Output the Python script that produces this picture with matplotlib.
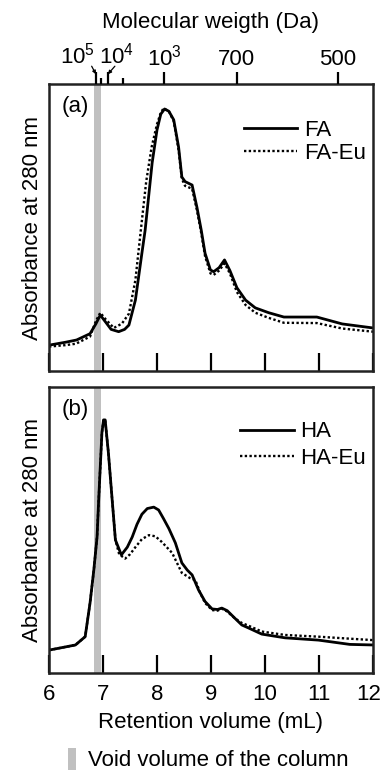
import matplotlib
matplotlib.use("Agg")
import matplotlib.pyplot as plt
from matplotlib.patches import Rectangle
from matplotlib.transforms import ScaledTranslation

plt.rcParams['font.family'] = ['Liberation Sans', 'DejaVu Sans']
plt.rcParams['mathtext.fontset'] = 'custom'
plt.rcParams['mathtext.rm'] = 'Liberation Sans'

# --- données (fraction de hauteur du panneau) ---
fa_x = [6.0, 6.3, 6.51, 6.76, 6.87, 6.95, 7.05, 7.15, 7.29, 7.40, 7.48, 7.60, 7.72, 7.78,
        7.91, 8.0, 8.07, 8.14, 8.22, 8.31, 8.40, 8.46, 8.52, 8.65, 8.74, 8.82, 8.89, 8.99,
        9.05, 9.15, 9.25, 9.35, 9.48, 9.64, 9.82, 10.07, 10.35, 10.96, 11.43, 12.0]
fa_y = [0.09, 0.10, 0.108, 0.13, 0.165, 0.195, 0.17, 0.145, 0.137, 0.145, 0.16, 0.247, 0.41, 0.49,
        0.725, 0.84, 0.895, 0.913, 0.905, 0.875, 0.78, 0.676, 0.66, 0.648, 0.57, 0.49, 0.41, 0.352,
        0.346, 0.36, 0.387, 0.35, 0.29, 0.247, 0.22, 0.203, 0.188, 0.188, 0.164, 0.15]

faeu_x = [6.0, 6.3, 6.5, 6.76, 6.87, 6.95, 7.05, 7.2, 7.35, 7.48, 7.60, 7.70, 7.80, 7.90,
          8.0, 8.07, 8.12, 8.22, 8.31, 8.40, 8.46, 8.52, 8.65, 8.74, 8.82, 8.89, 8.99, 9.05,
          9.15, 9.25, 9.35, 9.48, 9.64, 9.82, 10.07, 10.35, 10.96, 11.43, 12.0]
faeu_y = [0.085, 0.09, 0.095, 0.12, 0.175, 0.203, 0.18, 0.15, 0.165, 0.2, 0.317, 0.49, 0.66, 0.78,
          0.86, 0.9, 0.915, 0.905, 0.87, 0.77, 0.67, 0.645, 0.635, 0.56, 0.48, 0.40, 0.34, 0.335,
          0.35, 0.375, 0.34, 0.275, 0.23, 0.203, 0.185, 0.168, 0.167, 0.148, 0.137]

ha_x = [6.0, 6.49, 6.67, 6.76, 6.83, 6.89, 6.92, 6.98, 7.01, 7.04, 7.10, 7.17, 7.23, 7.34,
        7.45, 7.54, 7.63, 7.72, 7.82, 7.94, 8.03, 8.12, 8.22, 8.34, 8.46, 8.56, 8.65, 8.77,
        8.89, 9.02, 9.12, 9.20, 9.30, 9.45, 9.57, 9.70, 9.94, 10.37, 10.99, 11.57, 12.0]
ha_y = [0.08, 0.098, 0.127, 0.245, 0.36, 0.476, 0.605, 0.84, 0.885, 0.885, 0.77, 0.605, 0.465, 0.413,
        0.44, 0.475, 0.52, 0.555, 0.575, 0.58, 0.57, 0.54, 0.505, 0.455, 0.385, 0.36, 0.343, 0.29,
        0.25, 0.224, 0.222, 0.227, 0.218, 0.19, 0.168, 0.157, 0.136, 0.123, 0.115, 0.10, 0.098]

haeu_x = [6.0, 6.49, 6.67, 6.76, 6.83, 6.89, 6.92, 6.98, 7.01, 7.04, 7.10, 7.17, 7.23, 7.30,
          7.41, 7.50, 7.60, 7.72, 7.85, 7.97, 8.09, 8.28, 8.46, 8.61, 8.71, 8.80, 8.89, 9.02,
          9.12, 9.20, 9.30, 9.45, 9.57, 9.70, 9.94, 10.37, 10.99, 11.57, 12.0]
haeu_y = [0.08, 0.098, 0.127, 0.245, 0.36, 0.476, 0.605, 0.84, 0.885, 0.885, 0.77, 0.605, 0.465, 0.415,
          0.40, 0.415, 0.44, 0.468, 0.482, 0.478, 0.458, 0.42, 0.35, 0.332, 0.325, 0.28, 0.245, 0.22,
          0.218, 0.225, 0.215, 0.19, 0.175, 0.165, 0.145, 0.133, 0.127, 0.12, 0.115]

void_range = (6.83, 6.96)
ret_ticks = [6, 7, 8, 9, 10, 11, 12]
mw_pos = [6.87, 7.09, 8.13, 9.48, 11.35]
mw_labels = [r'$\mathregular{10^5}$', r'$\mathregular{10^4}$', r'$\mathregular{10^3}$', '700', '500']
mw_minor = [6.96, 7.37]

W, H = 382, 770
fig = plt.figure(figsize=(W / 100, H / 100), dpi=100)
FS = 16

def make_ax(top, bottom):
    ax = fig.add_axes([49 / W, (H - bottom) / H, 324 / W, (bottom - top) / H])
    ax.set_xlim(6, 12)
    ax.set_ylim(0, 1)
    ax.axvspan(*void_range, color='#c0c0c0', lw=0, zorder=0)
    ax.set_yticks([])
    ax.set_xticks(ret_ticks)
    ax.tick_params(axis='x', direction='in', length=13, width=1.6, labelsize=FS, pad=8)
    for s in ax.spines.values():
        s.set_linewidth(1.8)
        s.set_color('#222222')
    ax.set_ylabel('Absorbance at 280 nm', fontsize=FS, labelpad=4)
    return ax

ax1 = make_ax(84, 371)
ax2 = make_ax(387, 673)

ax1.plot(fa_x, fa_y, color='black', lw=2.0, label='FA')
ax1.plot(faeu_x, faeu_y, color='black', lw=1.7, ls=(0, (1, 1)), label='FA-Eu')
ax1.tick_params(axis='x', labelbottom=False)
ax1.text(0.04, 0.92, '(a)', transform=ax1.transAxes, fontsize=FS, va='center')
ax1.legend(loc='upper right', bbox_to_anchor=(1.04, 0.945), frameon=False, fontsize=FS,
           handlelength=2.4, handletextpad=0.3, labelspacing=0.08)

ax2.plot(ha_x, ha_y, color='black', lw=2.0, label='HA')
ax2.plot(haeu_x, haeu_y, color='black', lw=1.7, ls=(0, (1, 1)), label='HA-Eu')
ax2.text(0.04, 0.92, '(b)', transform=ax2.transAxes, fontsize=FS, va='center')
ax2.legend(loc='upper right', bbox_to_anchor=(1.04, 0.95), frameon=False, fontsize=FS,
           handlelength=2.4, handletextpad=0.3, labelspacing=0.25)
ax2.set_xlabel('Retention volume (mL)', fontsize=FS, labelpad=5)

# "12" collé au bord droit : aligné à droite puis décalé
last = ax2.get_xticklabels()[-1]
last.set_horizontalalignment('right')
last.set_transform(last.get_transform() + ScaledTranslation(8 / 100, 0, fig.dpi_scale_trans))

# axe du haut : masse moléculaire
top = ax1.twiny()
top.set_xlim(6, 12)
top.set_xticks(mw_pos)
top.set_xticklabels(['', ''] + mw_labels[2:])
top.set_xticks(mw_minor, minor=True)
top.tick_params(axis='x', which='major', direction='out', length=9, width=1.6, labelsize=FS, pad=1)
top.tick_params(axis='x', which='minor', direction='out', length=4, width=1.6)
top.set_xlabel('Molecular weigth (Da)', fontsize=FS, labelpad=12)
for s in top.spines.values():
    s.set_visible(False)

# étiquettes 10^5 et 10^4 décalées, avec petites flèches
top.text(6.86, 1.055, mw_labels[0], transform=top.get_xaxis_transform(),
         ha='right', va='bottom', fontsize=FS)
top.text(6.92, 1.055, mw_labels[1], transform=top.get_xaxis_transform(),
         ha='left', va='bottom', fontsize=FS)
for pos, start in [(mw_pos[0], 6.79), (mw_pos[1], 7.22)]:
    top.annotate('', xy=(pos, 1.034), xycoords=('data', 'axes fraction'),
                 xytext=(start, 1.062), textcoords=('data', 'axes fraction'),
                 arrowprops=dict(arrowstyle='-|>', lw=0.9, color='black',
                                 shrinkA=0, shrinkB=0, mutation_scale=5))

# légende de la zone grise
fig.patches.append(Rectangle((68 / W, 1 - 770 / H), 8 / W, 22 / H, transform=fig.transFigure,
                             color='#c0c0c0', lw=0))
fig.text(88 / W, 1 - 760 / H, 'Void volume of the column', fontsize=FS, va='center')

fig.savefig('out.png', dpi=100)
